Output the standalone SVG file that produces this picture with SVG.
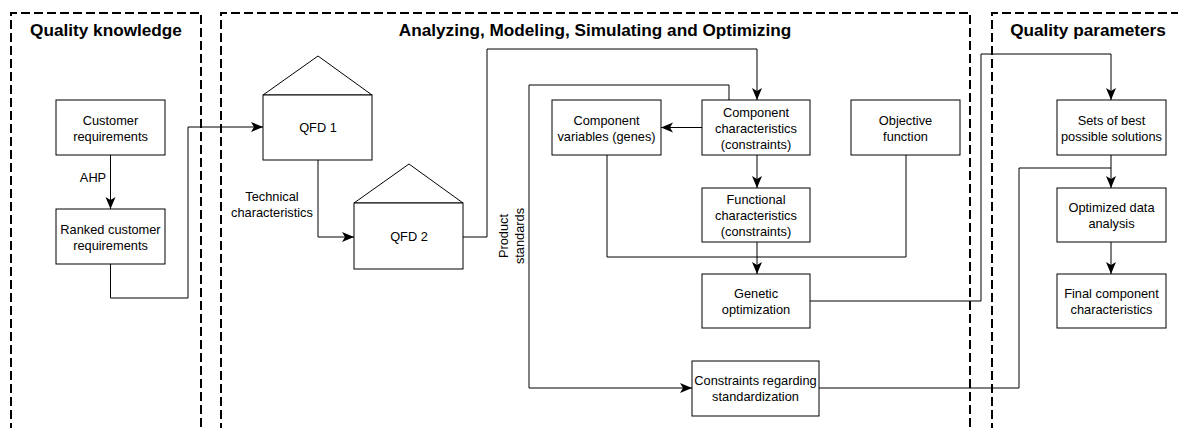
<svg xmlns="http://www.w3.org/2000/svg" width="1178" height="428" viewBox="0 0 1178 428">
<style>
.frame{fill:none;stroke:#000;stroke-width:2;stroke-dasharray:9 4}
.title{font-family:"Liberation Sans",Arial,sans-serif;font-weight:bold;font-size:17.2px;fill:#000;text-anchor:middle}
.box{fill:#fff;stroke:#000;stroke-width:1}
.t{font-family:"Liberation Sans",Arial,sans-serif;font-size:12.8px;fill:#000;text-anchor:middle}
.c{fill:none;stroke:#000;stroke-width:1}
.a{marker-end:url(#arr)}
</style>
<defs>
<marker id="arr" markerUnits="userSpaceOnUse" markerWidth="14" markerHeight="12" refX="12" refY="5" orient="auto">
<path d="M0,0 L12,5 L0,10 L3,5 z" fill="#000"/>
</marker>
</defs>
<rect width="1178" height="428" fill="#fff"/>
<g id="frames">
<path class="frame" d="M11,432 V13 H201 V432"/>
<path class="frame" d="M221,432 V13 H970 V432"/>
<path class="frame" d="M992,432 V13 H1182"/>
<text class="title" x="106" y="36">Quality knowledge</text>
<text class="title" x="595" y="36">Analyzing, Modeling, Simulating and Optimizing</text>
<text class="title" x="1088" y="36">Quality parameters</text>
</g>
<g id="connectors">
<path class="c a" d="M110.5,155 V209"/>
<text class="t" x="93" y="181.5">AHP</text>
<path class="c a" d="M110.5,264 V298 H188 V127 H263"/>
<path class="c a" d="M318,160 V237 H354"/>
<text class="t" x="272" y="200.5">Technical</text>
<text class="t" x="272" y="216.5">characteristics</text>
<path class="c a" d="M463,237 H487 V49 H757 V100"/>
<path class="c a" d="M729,100 V85 H529 V388 H692"/>
<text class="t" transform="translate(503,236) rotate(-90)" y="4.5">Product</text>
<text class="t" transform="translate(519,236) rotate(-90)" y="4.5">standards</text>
<path class="c a" d="M702,127.5 H661"/>
<path class="c a" d="M757,155 V188"/>
<path class="c" d="M607,155 V257 H906 V155"/>
<path class="c a" d="M757,242 V274"/>
<path class="c a" d="M810,301 H981 V54 H1111 V100"/>
<path class="c a" d="M1111,155 V188"/>
<path class="c" d="M819,388 H1019 V168 H1111"/>
<path class="c a" d="M1111,242 V274"/>
</g>
<g id="customer-requirements">
<rect class="box" x="56" y="100" width="109" height="55"/>
<text class="t" x="110.5" y="124.5">Customer</text>
<text class="t" x="110.5" y="140.5">requirements</text>
</g>
<g id="ranked-customer-requirements">
<rect class="box" x="56" y="209" width="109" height="55"/>
<text class="t" x="110.5" y="233.5">Ranked customer</text>
<text class="t" x="110.5" y="249.5">requirements</text>
</g>
<g id="qfd1">
<path class="box" d="M263,95 L318,56 L372,95 Z"/>
<rect class="box" x="263" y="95" width="109" height="65"/>
<text class="t" x="318" y="132">QFD 1</text>
</g>
<g id="qfd2">
<path class="box" d="M354,203 L409,164 L463,203 Z"/>
<rect class="box" x="354" y="203" width="109" height="66"/>
<text class="t" x="409" y="241">QFD 2</text>
</g>
<g id="component-variables">
<rect class="box" x="552" y="100" width="109" height="55"/>
<text class="t" x="606.5" y="124.5">Component</text>
<text class="t" x="606.5" y="140.5">variables (genes)</text>
</g>
<g id="component-characteristics">
<rect class="box" x="702" y="100" width="108" height="55"/>
<text class="t" x="756" y="116.5">Component</text>
<text class="t" x="756" y="132.5">characteristics</text>
<text class="t" x="756" y="148.5">(constraints)</text>
</g>
<g id="objective-function">
<rect class="box" x="851" y="100" width="109" height="55"/>
<text class="t" x="905.5" y="124.5">Objective</text>
<text class="t" x="905.5" y="140.5">function</text>
</g>
<g id="functional-characteristics">
<rect class="box" x="702" y="188" width="108" height="54"/>
<text class="t" x="756" y="203.5">Functional</text>
<text class="t" x="756" y="219.5">characteristics</text>
<text class="t" x="756" y="235.5">(constraints)</text>
</g>
<g id="genetic-optimization">
<rect class="box" x="702" y="274" width="108" height="54"/>
<text class="t" x="756" y="298">Genetic</text>
<text class="t" x="756" y="314">optimization</text>
</g>
<g id="constraints-standardization">
<rect class="box" x="692" y="361" width="127" height="55"/>
<text class="t" x="755.5" y="385">Constraints regarding</text>
<text class="t" x="755.5" y="401">standardization</text>
</g>
<g id="sets-best-solutions">
<rect class="box" x="1057" y="100" width="109" height="55"/>
<text class="t" x="1111.5" y="124.5">Sets of best</text>
<text class="t" x="1111.5" y="140.5">possible solutions</text>
</g>
<g id="optimized-data-analysis">
<rect class="box" x="1057" y="188" width="109" height="54"/>
<text class="t" x="1111.5" y="211.5">Optimized data</text>
<text class="t" x="1111.5" y="227.5">analysis</text>
</g>
<g id="final-component-characteristics">
<rect class="box" x="1057" y="274" width="109" height="54"/>
<text class="t" x="1111.5" y="298">Final component</text>
<text class="t" x="1111.5" y="314">characteristics</text>
</g>
</svg>
